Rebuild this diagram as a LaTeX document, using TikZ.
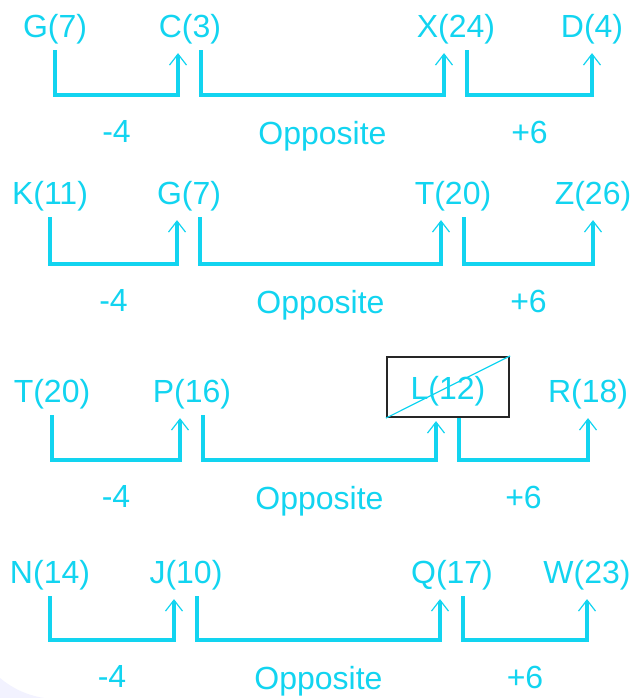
\documentclass[tikz,border=0pt]{standalone}
\usepackage{fontspec}
\setmainfont{Liberation Sans}
\usepackage{tikz}
\usetikzlibrary{arrows.meta}
\definecolor{linecol}{RGB}{18,212,240}

\begin{document}
\begin{tikzpicture}[x=1pt, y=-1pt, line join=miter,
    letter/.style={text=linecol, font=\fontsize{32}{36}\selectfont, inner sep=6pt},
    crossbox/.style={draw=black!85, line width=2.2pt, minimum width=122pt,
                     minimum height=60pt, inner sep=0pt, text height=31pt,
                     text depth=7pt, yshift=7pt},
    tag/.style={text=linecol, font=\fontsize{32}{36}\selectfont, below=21pt},
    link/.style={draw=linecol, line width=3.2pt, shorten >=3pt,
                 -{Straight Barb[length=11pt, width=17pt, line width=1.2pt]}}]
  \useasboundingbox (0,0) rectangle (636,698);
  \fill[blue!5] (0,698) -- (0,678) .. controls (12,688) and (26,695) .. (44,698) -- cycle;
  \foreach \r/\ty/\hy/\na/\nb/\nc/\nd/\xa/\xb/\xc/\xd/\st in {
      1/29/95/G(7)/C(3)/X(24)/D(4)/55/190/456/592/letter,
      2/196/264/K(11)/G(7)/T(20)/Z(26)/50/189/453/593/letter,
      3/394/460/T(20)/P(16)/L(12)/R(18)/52/192/448/588/crossbox,
      4/575/640/N(14)/J(10)/Q(17)/W(23)/50/186/452/587/letter} {%
    \node[letter] (a\r) at (\xa,\ty) {\na};
    \node[letter] (b\r) at (\xb,\ty) {\nb};
    \node[letter, \st] (c\r) at (\xc,\ty) {\nc};
    \node[letter] (d\r) at (\xd,\ty) {\nd};
    \coordinate (h\r) at (0,\hy);
    \coordinate (bi\r) at ([xshift=-12pt]b\r.south);
    \coordinate (bo\r) at ([xshift=11pt]b\r.south);
    \coordinate (ci\r) at ([xshift=-12pt]c\r.south);
    \coordinate (co\r) at ([xshift=11pt]c\r.south);
    \draw[link] (a\r.south) -- (a\r.south |- h\r)
      -- node[tag] (m\r) {-4} (bi\r |- h\r) -- (bi\r);
    \draw[link] (bo\r) -- (bo\r |- h\r)
      -- node[tag] (o\r) {Opposite} (ci\r |- h\r) -- (ci\r);
    \draw[link] (co\r) -- (co\r |- h\r)
      -- node[tag] (p\r) {+6} (d\r.south |- h\r) -- (d\r.south);
  }
  % crossed out letter
  \draw[linecol, line width=1.2pt] (c3.south west) -- (c3.north east);
\end{tikzpicture}
\end{document}
